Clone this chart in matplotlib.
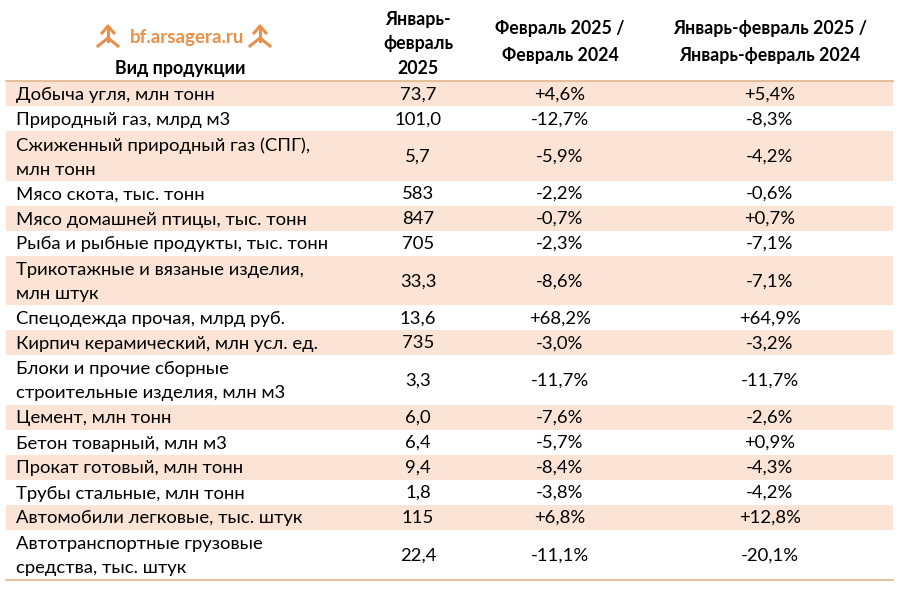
import matplotlib
matplotlib.use('Agg')
import matplotlib.pyplot as plt
from matplotlib.patches import Rectangle

plt.rcParams['font.family'] = ['Lato', 'DejaVu Sans']

products = [
    "Добыча угля, млн тонн",
    "Природный газ, млрд м3",
    "Сжиженный природный газ (СПГ),\nмлн тонн",
    "Мясо скота, тыс. тонн",
    "Мясо домашней птицы, тыс. тонн",
    "Рыба и рыбные продукты, тыс. тонн",
    "Трикотажные и вязаные изделия,\nмлн штук",
    "Спецодежда прочая, млрд руб.",
    "Кирпич керамический, млн усл. ед.",
    "Блоки и прочие сборные\nстроительные изделия, млн м3",
    "Цемент, млн тонн",
    "Бетон товарный, млн м3",
    "Прокат готовый, млн тонн",
    "Трубы стальные, млн тонн",
    "Автомобили легковые, тыс. штук",
    "Автотранспортные грузовые\nсредства, тыс. штук",
]
jan_feb_2025 = ["73,7", "101,0", "5,7", "583", "847", "705", "33,3", "13,6",
                "735", "3,3", "6,0", "6,4", "9,4", "1,8", "115", "22,4"]
feb_yoy = ["+4,6%", "-12,7%", "-5,9%", "-2,2%", "-0,7%", "-2,3%", "-8,6%", "+68,2%",
           "-3,0%", "-11,7%", "-7,6%", "-5,7%", "-8,4%", "-3,8%", "+6,8%", "-11,1%"]
janfeb_yoy = ["+5,4%", "-8,3%", "-4,2%", "-0,6%", "+0,7%", "-7,1%", "-7,1%", "+64,9%",
              "-3,2%", "-11,7%", "-2,6%", "+0,9%", "-4,3%", "-4,2%", "+12,8%", "-20,1%"]

headers = ["Вид продукции", "Январь-\nфевраль\n2025",
           "Февраль 2025 /\nФевраль 2024",
           "Январь-февраль 2025 /\nЯнварь-февраль 2024"]

W, H = 909, 590
fig = plt.figure(figsize=(W / 100, H / 100), dpi=100)
ax = fig.add_axes([0, 0, 1, 1])
ax.set_xlim(0, W)
ax.set_ylim(H, 0)
ax.axis('off')

shade = '#FBE4D5'
line_col = '#E2B48C'
orange = '#E8904A'
x_left, x_right = 6, 893
col_x = [16, 418, 560, 770]
fs = 13.3
hfs = 12.8

# header
ax.text(180, 68.5, headers[0], ha='center', va='center', fontsize=hfs, fontweight='bold')
ax.text(col_x[1], 44, headers[1], ha='center', va='center', fontsize=hfs,
        fontweight='bold', linespacing=1.55)
ax.text(col_x[2], 42, headers[2], ha='center', va='center', fontsize=hfs,
        fontweight='bold', linespacing=1.75)
ax.text(col_x[3], 42, headers[3], ha='center', va='center', fontsize=hfs,
        fontweight='bold', linespacing=1.75)

# logo
ax.text(187, 37, "bf.arsagera.ru", ha='center', va='center', fontsize=13.5,
        fontweight='bold', color=orange)
for cx in (108, 260):
    ax.plot([cx, cx], [27, 41], color=orange, lw=2.2)
    ax.plot([cx - 10, cx, cx + 10], [46, 38, 46], color=orange, lw=2.2)
    ax.plot([cx - 6, cx, cx + 6], [33, 26, 33], color=orange, lw=2.2)

# body
y = 81
single, double = 25, 49.5
for i, name in enumerate(products):
    h = double if '\n' in name else single
    if i % 2 == 0:
        ax.add_patch(Rectangle((x_left, y), x_right - x_left, h, facecolor=shade,
                               edgecolor='none'))
    yc = y + h / 2
    ax.text(col_x[0], yc + 1.5, name, ha='left', va='center', fontsize=fs,
            linespacing=1.62)
    ax.text(col_x[1], yc + 1, jan_feb_2025[i], ha='center', va='center', fontsize=fs)
    ax.text(col_x[2], yc + 1, feb_yoy[i], ha='center', va='center', fontsize=fs)
    ax.text(col_x[3], yc + 1, janfeb_yoy[i], ha='center', va='center', fontsize=fs)
    y += h

ax.plot([x_left, x_right], [80.5, 80.5], color=line_col, lw=1.2)
ax.plot([x_left, x_right], [y + 0.5, y + 0.5], color=line_col, lw=1.2)

fig.savefig("out.png", dpi=100)
